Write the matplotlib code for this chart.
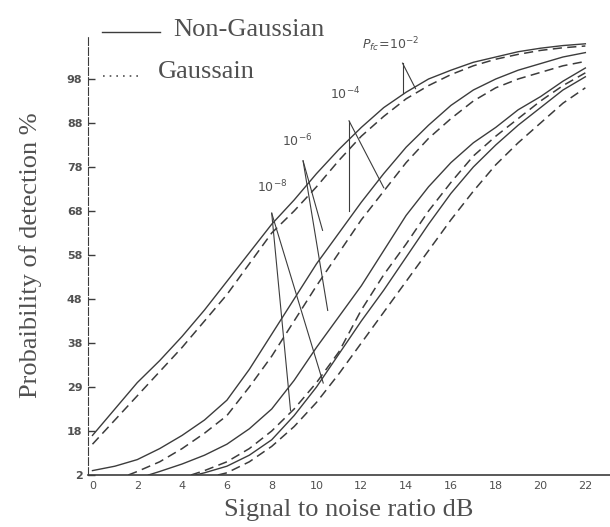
import numpy as np
import matplotlib
matplotlib.use("Agg")
import matplotlib.pyplot as plt
from matplotlib.lines import Line2D

# ---- data (SNR in dB, Pd in %) ----
snr_s1 = [0, 1, 2, 3, 4, 5, 6, 7, 8, 9, 10, 11, 12, 13, 14, 15, 16, 17, 18, 19, 20, 21, 22]
pd_s1 = [9, 15, 21, 26, 31.5, 37.5, 44, 50.5, 57, 62.5, 68.5, 74, 79, 83.5, 87, 90, 92, 93.8, 95, 96.2, 97, 97.6, 98]
snr_d1 = [0, 1, 2, 3, 4, 5, 6, 7, 8, 9, 10, 11, 12, 13, 14, 15, 16, 17, 18, 19, 20, 21, 22]
pd_d1 = [7, 12.5, 18, 23.5, 29, 35, 41, 48, 55, 60, 65.5, 71.5, 77, 81.5, 85.5, 88.5, 91, 93, 94.5, 95.6, 96.5, 97.1, 97.5]

snr_s2 = [0, 1, 2, 3, 4, 5, 6, 7, 8, 9, 10, 11, 12, 13, 14, 15, 16, 17, 18, 19, 20, 21, 22]
pd_s2 = [1, 2, 3.5, 6, 9, 12.5, 17, 24, 32, 40, 48, 55, 62, 68.5, 74.5, 79.5, 84, 87.5, 90, 92, 93.5, 95, 96]
snr_d2 = [1.6, 2, 3, 4, 5, 6, 7, 8, 9, 10, 11, 12, 13, 14, 15, 16, 17, 18, 19, 20, 21, 22]
pd_d2 = [0, 0.8, 3, 6, 9.5, 13.5, 20, 27, 35, 43, 50.5, 58, 64.5, 71, 76.5, 81, 85, 88, 90, 91.5, 93, 94]

snr_s3 = [2.5, 3, 4, 5, 6, 7, 8, 9, 10, 11, 12, 13, 14, 15, 16, 17, 18, 19, 20, 21, 22]
pd_s3 = [0, 0.8, 2.5, 4.5, 7, 10.5, 15, 21.5, 29, 36, 43, 51, 59, 65.5, 71, 75.5, 79, 83, 86, 89.5, 92.5]
snr_d3 = [4.4, 5, 6, 7, 8, 9, 10, 11, 12, 13, 14, 15, 16, 17, 18, 19, 20, 21, 22]
pd_d3 = [0, 1, 3, 6, 10, 15, 21, 28, 37.5, 45.5, 52.5, 60, 66.5, 72.5, 77, 81, 85, 88.5, 91.4]

snr_s4 = [4.6, 5, 6, 7, 8, 9, 10, 11, 12, 13, 14, 15, 16, 17, 18, 19, 20, 21, 22]
pd_s4 = [0, 0.5, 2, 4.5, 8, 13.5, 20, 27.5, 35, 42, 49.5, 57, 64, 70, 75, 79.5, 83.5, 87.5, 90.5]
snr_d4 = [5.6, 6, 7, 8, 9, 10, 11, 12, 13, 14, 15, 16, 17, 18, 19, 20, 21, 22]
pd_d4 = [0, 0.5, 3, 6.5, 11, 16.5, 23, 30, 37, 44, 51, 58, 64.5, 70.5, 75.5, 80, 84.5, 88]

x_ticks = [0, 2, 4, 6, 8, 10, 12, 14, 16, 18, 20, 22]
y_ticks = [0, 10, 20, 30, 40, 50, 60, 70, 80, 90]
y_ticklabels = ["2", "18", "29", "38", "48", "58", "68", "78", "88", "98"]

# false-alarm labels and their two leader lines
pfa_labels = [r"$P_{fc}\!=\!10^{-2}$", r"$10^{-4}$", r"$10^{-6}$", r"$10^{-8}$"]
label_pos = [(13.3, 97.8), (11.3, 86.5), (9.15, 75.8), (8.0, 65.5)]
apex_pos = [(13.84, 93.6), (11.45, 80.5), (9.4, 71.4), (8.0, 59.5)]
leg_a = [(13.84, 86.8), (11.45, 60.0), (10.27, 55.6), (8.84, 14.7)]
leg_b = [(14.42, 87.8), (13.0, 65.3), (10.5, 37.4), (10.3, 20.9)]

ink = "#3c3c3c"
txt = "#505050"

fig = plt.figure(figsize=(6.1, 5.27), dpi=100)
ax = fig.add_axes([88 / 610, 52 / 527, 522 / 610, 440 / 527])

pairs = [(snr_s1, pd_s1, snr_d1, pd_d1), (snr_s2, pd_s2, snr_d2, pd_d2),
         (snr_s3, pd_s3, snr_d3, pd_d3), (snr_s4, pd_s4, snr_d4, pd_d4)]
for xs, ys, xd, yd in pairs:
    ax.plot(xs, ys, color=ink, lw=1.0)
    ax.plot(xd, yd, color=ink, lw=1.1, linestyle=(0, (6, 3.5)))

for i in range(len(pfa_labels)):
    lx, ly = label_pos[i]
    ax.text(lx, ly, pfa_labels[i], fontsize=9, color=txt, ha="center", va="center")
    a_x, a_y = apex_pos[i]
    for ex, ey in (leg_a[i], leg_b[i]):
        ax.plot([a_x, ex], [a_y, ey], color=ink, lw=0.8)

ax.set_xlim(-0.2, 23.1)
ax.set_ylim(0, 100)
ax.set_xticks(x_ticks)
ax.set_xticklabels([str(v) for v in x_ticks])
ax.set_yticks(y_ticks)
ax.set_yticklabels(y_ticklabels)
ax.tick_params(axis="x", length=0, pad=4, labelsize=8, labelcolor=txt)
ax.tick_params(axis="y", direction="in", length=5, width=1, color=ink,
               pad=4, labelsize=8, labelcolor=txt)
for lab in ax.get_yticklabels():
    lab.set_fontweight("bold")

for s in ["top", "right"]:
    ax.spines[s].set_visible(False)
ax.spines["left"].set_color(ink)
ax.spines["left"].set_linestyle((0, (7, 2)))
ax.spines["bottom"].set_color(ink)
ax.spines["bottom"].set_linewidth(1.2)
ax.patch.set_alpha(0)

serif = "Liberation Serif"
ax.set_xlabel("Signal to noise ratio dB", fontsize=19, family=serif, color=txt, labelpad=6)
ax.set_ylabel("Probaibility of detection %", fontsize=19, family=serif, color=txt, labelpad=18)

# hand-drawn style legend in the top left corner
fig.add_artist(Line2D([102 / 610, 160 / 610], [1 - 32 / 527, 1 - 32 / 527],
                      transform=fig.transFigure, color=ink, lw=1.0))
fig.text(173 / 610, 1 - 30 / 527, "Non-Gaussian", fontsize=19, family=serif,
         color=txt, va="center")
fig.add_artist(Line2D([103 / 610, 142 / 610], [1 - 76 / 527, 1 - 76 / 527],
                      transform=fig.transFigure, color=txt, lw=1.2, linestyle=(0, (1, 3))))
fig.text(158 / 610, 1 - 72 / 527, "Gaussain", fontsize=19, family=serif,
         color=txt, va="center")

fig.savefig("out.png", dpi=100)
